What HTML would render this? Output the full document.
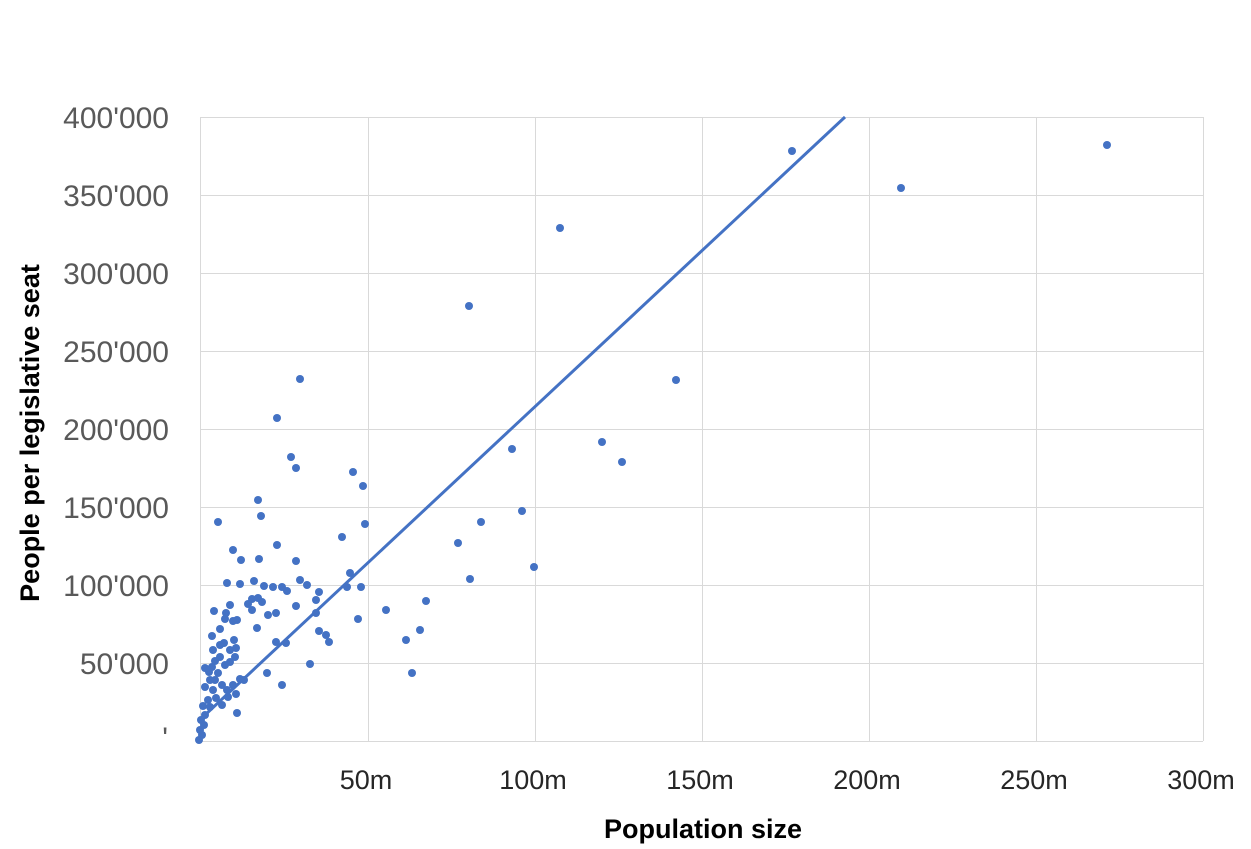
<!DOCTYPE html>
<html><head><meta charset="utf-8"><style>body{margin:0;background:#fff}svg{display:block}</style></head>
<body>
<svg width="1251" height="849" xmlns="http://www.w3.org/2000/svg" font-family="Liberation Sans, sans-serif">
<rect width="1251" height="849" fill="#fff"/>
<g stroke="#d9d9d9" stroke-width="1">
<line x1="200" y1="117.5" x2="1203" y2="117.5"/><line x1="200" y1="195.5" x2="1203" y2="195.5"/>
<line x1="200" y1="273.5" x2="1203" y2="273.5"/><line x1="200" y1="351.5" x2="1203" y2="351.5"/>
<line x1="200" y1="429.5" x2="1203" y2="429.5"/><line x1="200" y1="507.5" x2="1203" y2="507.5"/>
<line x1="200" y1="585.5" x2="1203" y2="585.5"/><line x1="200" y1="663.5" x2="1203" y2="663.5"/>
<line x1="200" y1="741.5" x2="1203" y2="741.5"/>
<line x1="200.5" y1="117" x2="200.5" y2="741"/><line x1="368.5" y1="117" x2="368.5" y2="741"/>
<line x1="535.5" y1="117" x2="535.5" y2="741"/><line x1="702.5" y1="117" x2="702.5" y2="741"/>
<line x1="869.5" y1="117" x2="869.5" y2="741"/><line x1="1036.5" y1="117" x2="1036.5" y2="741"/>
<line x1="1203.5" y1="117" x2="1203.5" y2="741"/>
</g>
<g fill="#595959" font-size="30" text-anchor="end">
<text x="169" y="128">400'000</text><text x="169" y="206">350'000</text><text x="169" y="284">300'000</text>
<text x="169" y="362">250'000</text><text x="169" y="440">200'000</text><text x="169" y="518">150'000</text>
<text x="169" y="596">100'000</text><text x="169" y="674">50'000</text><text x="168" y="748">'</text>
</g>
<g fill="#262626" font-size="27" text-anchor="middle">
<text x="366" y="789">50m</text><text x="533" y="789">100m</text><text x="700" y="789">150m</text>
<text x="867" y="789">200m</text><text x="1034" y="789">250m</text><text x="1201" y="789">300m</text>
</g>
<text x="703" y="838" font-size="27" font-weight="bold" text-anchor="middle" fill="#000">Population size</text>
<text transform="translate(39,433) rotate(-90)" font-size="27" font-weight="bold" text-anchor="middle" fill="#000">People per legislative seat</text>
<line x1="205" y1="715" x2="845" y2="117" stroke="#4472C4" stroke-width="3"/>
<g fill="#4472C4">
<circle cx="1107" cy="145" r="4"/><circle cx="901" cy="188" r="4"/><circle cx="792" cy="151" r="4"/><circle cx="560" cy="228" r="4"/><circle cx="469" cy="306" r="4"/><circle cx="676" cy="380" r="4"/><circle cx="300" cy="379" r="4"/><circle cx="602" cy="442" r="4"/><circle cx="622" cy="462" r="4"/><circle cx="512" cy="449" r="4"/><circle cx="277" cy="418" r="4"/><circle cx="291" cy="457" r="4"/><circle cx="296" cy="468" r="4"/><circle cx="353" cy="472" r="4"/><circle cx="363" cy="486" r="4"/><circle cx="258" cy="500" r="4"/><circle cx="261" cy="516" r="4"/><circle cx="218" cy="522" r="4"/><circle cx="342" cy="537" r="4"/><circle cx="365" cy="524" r="4"/><circle cx="522" cy="511" r="4"/><circle cx="481" cy="522" r="4"/><circle cx="458" cy="543" r="4"/><circle cx="534" cy="567" r="4"/><circle cx="350" cy="573" r="4"/><circle cx="470" cy="579" r="4"/><circle cx="277" cy="545" r="4"/><circle cx="233" cy="550" r="4"/><circle cx="259" cy="559" r="4"/><circle cx="296" cy="561" r="4"/><circle cx="241" cy="560" r="4"/><circle cx="254" cy="581" r="4"/><circle cx="252" cy="599" r="4"/><circle cx="282" cy="587" r="4"/><circle cx="273" cy="587" r="4"/><circle cx="287" cy="591" r="4"/><circle cx="300" cy="580" r="4"/><circle cx="307" cy="585" r="4"/><circle cx="319" cy="592" r="4"/><circle cx="347" cy="587" r="4"/><circle cx="361" cy="587" r="4"/><circle cx="386" cy="610" r="4"/><circle cx="426" cy="601" r="4"/><circle cx="316" cy="600" r="4"/><circle cx="296" cy="606" r="4"/><circle cx="276" cy="613" r="4"/><circle cx="258" cy="598" r="4"/><circle cx="252" cy="610" r="4"/><circle cx="248" cy="604" r="4"/><circle cx="264" cy="586" r="4"/><circle cx="240" cy="584" r="4"/><circle cx="227" cy="583" r="4"/><circle cx="214" cy="611" r="4"/><circle cx="226" cy="613" r="4"/><circle cx="237" cy="620" r="4"/><circle cx="233" cy="621" r="4"/><circle cx="234" cy="640" r="4"/><circle cx="236" cy="648" r="4"/><circle cx="257" cy="628" r="4"/><circle cx="262" cy="602" r="4"/><circle cx="268" cy="615" r="4"/><circle cx="316" cy="613" r="4"/><circle cx="319" cy="631" r="4"/><circle cx="326" cy="635" r="4"/><circle cx="329" cy="642" r="4"/><circle cx="286" cy="643" r="4"/><circle cx="276" cy="642" r="4"/><circle cx="358" cy="619" r="4"/><circle cx="406" cy="640" r="4"/><circle cx="420" cy="630" r="4"/><circle cx="310" cy="664" r="4"/><circle cx="412" cy="673" r="4"/><circle cx="267" cy="673" r="4"/><circle cx="282" cy="685" r="4"/><circle cx="240" cy="679" r="4"/><circle cx="236" cy="694" r="4"/><circle cx="237" cy="713" r="4"/><circle cx="244" cy="680" r="4"/><circle cx="224" cy="643" r="4"/><circle cx="220" cy="629" r="4"/><circle cx="215" cy="661" r="4"/><circle cx="230" cy="662" r="4"/><circle cx="235" cy="657" r="4"/><circle cx="212" cy="636" r="4"/><circle cx="212" cy="667" r="4"/><circle cx="220" cy="657" r="4"/><circle cx="225" cy="665" r="4"/><circle cx="213" cy="690" r="4"/><circle cx="205" cy="668" r="4"/><circle cx="209" cy="672" r="4"/><circle cx="205" cy="687" r="4"/><circle cx="222" cy="685" r="4"/><circle cx="216" cy="698" r="4"/><circle cx="210" cy="707" r="4"/><circle cx="203" cy="706" r="4"/><circle cx="205" cy="715" r="4"/><circle cx="201" cy="720" r="4"/><circle cx="200" cy="730" r="4"/><circle cx="199" cy="740" r="4"/><circle cx="202" cy="735" r="4"/><circle cx="204" cy="725" r="4"/><circle cx="208" cy="700" r="4"/><circle cx="215" cy="680" r="4"/><circle cx="218" cy="673" r="4"/><circle cx="210" cy="680" r="4"/><circle cx="227" cy="690" r="4"/><circle cx="233" cy="685" r="4"/><circle cx="228" cy="697" r="4"/><circle cx="222" cy="705" r="4"/><circle cx="230" cy="650" r="4"/><circle cx="213" cy="650" r="4"/><circle cx="220" cy="645" r="4"/><circle cx="230" cy="605" r="4"/><circle cx="225" cy="619" r="4"/>
</g>
</svg>
</body></html>
